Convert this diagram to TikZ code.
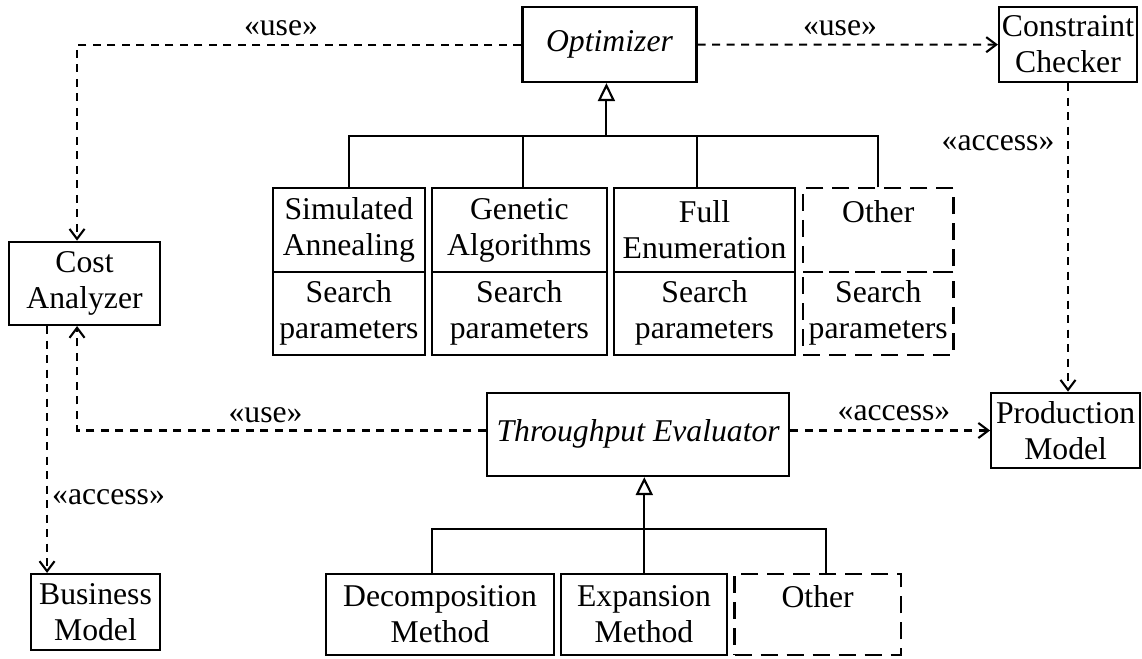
\documentclass[tikz,border=0pt]{standalone}
\usepackage{fontspec}
\setmainfont{Liberation Serif}
\usetikzlibrary{arrows.meta}
\begin{document}
\begin{tikzpicture}[x=1pt,y=-1pt,
  box/.style={draw, line width=2.1pt, inner sep=0pt, align=center, font=\fontsize{31.7}{36}\selectfont},
  dbox/.style={box, dash pattern=on 17pt off 9pt},
  dep/.style={line width=2.1pt, dash pattern=on 8pt off 6.5pt, -{Straight Barb[length=10pt,width=15pt]}},
  gen/.style={line width=2.1pt, -{Triangle[open,length=18pt,width=17pt]}},
  conn/.style={line width=2.1pt},
  lbl/.style={font=\fontsize{31.7}{36}\selectfont, inner sep=0pt}]
\useasboundingbox (0,0) rectangle (1142,658);

% main classes
\node[box, minimum width=174pt, minimum height=74.7pt] (opt) at (609.5,44.7) {\itshape Optimizer};
\node[box, minimum width=138pt, minimum height=74.7pt] (cc) at (1068,44.65) {Constraint\\Checker};
\node[box, minimum width=151.3pt, minimum height=83.3pt] (cost) at (84.55,283.35) {Cost\\Analyzer};
\node[box, minimum width=129pt, minimum height=76pt] (bus) at (95.5,612) {Business\\Model};
\node[box, minimum width=302.4pt, minimum height=83.3pt] (te) at (638.2,434.35) {\itshape Throughput Evaluator};
\node[box, minimum width=149pt, minimum height=75.6pt] (pm) at (1065.65,430.5) {Production\\Model};

% optimizer subclasses
\node[box, minimum width=151.7pt, minimum height=83.4pt] (sa) at (348.85,230) {Simulated\\Annealing};
\node[box, minimum width=151.7pt, minimum height=83.3pt] (sp) at (348.85,313.35) {Search\\parameters};
\node[box, minimum width=175.3pt, minimum height=83.4pt] (ga) at (519.35,230) {Genetic\\Algorithms};
\node[box, minimum width=175.3pt, minimum height=83.3pt] (gp) at (519.35,313.35) {Search\\parameters};
\node[box, minimum width=181pt, minimum height=83.4pt] (fa) at (704.5,230) {Full\\Enumeration};
\node[box, minimum width=181pt, minimum height=83.3pt] (fp) at (704.5,313.35) {Search\\parameters};
\node[dbox, minimum width=150.5pt, minimum height=83.4pt] (oa) at (878.25,230) {Other\\~};
\node[dbox, minimum width=150.5pt, minimum height=83.3pt] (op) at (878.25,313.35) {Search\\parameters};

% evaluator subclasses
\node[box, minimum width=227.5pt, minimum height=81pt] (dm) at (440.05,614.5) {Decomposition\\Method};
\node[box, minimum width=166pt, minimum height=81pt] (em) at (644,614.5) {Expansion\\Method};
\node[dbox, minimum width=166.3pt, minimum height=81pt] (ot) at (817.65,614.5) {Other\\~};

% generalizations
\coordinate (ob) at (606.4,136);
\draw[gen] (ob) -- (ob |- opt.south);
\draw[conn] (sa.north) |- (ob);
\draw[conn] ([xshift=3.6pt]ga.north) |- (ob);
\draw[conn] ([xshift=-7.5pt]fa.north) |- (ob);
\draw[conn] (oa.north) |- (ob);

\coordinate (tb) at (644.3,529.3);
\draw[gen] (tb) -- (tb |- te.south);
\draw[conn] ([xshift=-8pt]dm.north) |- (tb);
\draw[conn] (em.north) |- (tb);
\draw[conn] ([xshift=8pt]ot.north) |- (tb);

% dependencies
\draw[dep] (opt.west) -| ([xshift=-7.5pt]cost.north);
\draw[dep] (opt.east) -- (cc.west);
\draw[dep] (cc.south) -- (cc.south |- pm.north);
\draw[dep] (te.east |- pm.west) -- (pm.west);
\draw[dep] (te.west |- pm.west) -| ([xshift=-7.5pt]cost.south);
\draw[dep] ([xshift=-37.5pt]cost.south) coordinate (cb) -- (cb |- bus.north);

% labels
\node[lbl] (l1) at (281,28) {«use»};
\node[lbl] (l2) at (840,28) {«use»};
\node[lbl] (l3) at (998,143) {«access»};
\node[lbl] (l4) at (265.6,415) {«use»};
\node[lbl] (l5) at (894,413) {«access»};
\node[lbl, anchor=west] (l6) at (52,496.7) {«access»};
\end{tikzpicture}
\end{document}
